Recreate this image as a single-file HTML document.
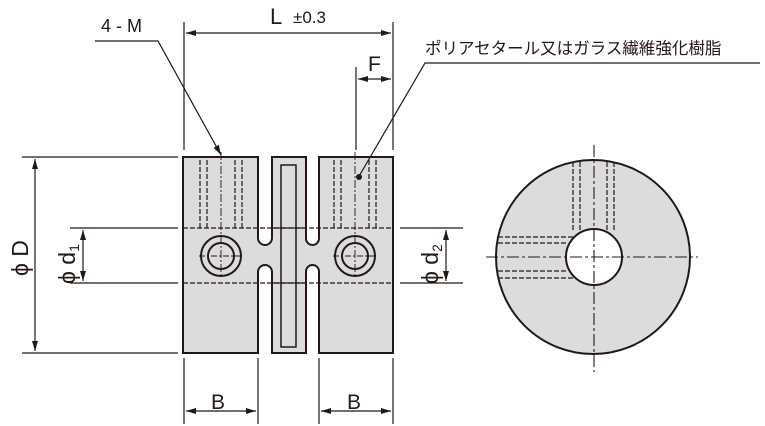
<!DOCTYPE html>
<html><head><meta charset="utf-8"><style>
html,body{margin:0;padding:0;background:#fff;width:765px;height:426px;overflow:hidden}
svg{display:block}
text{font-family:"Liberation Sans","Noto Sans CJK JP",sans-serif;fill:#231815}
</style></head><body>
<svg width="765" height="426" viewBox="0 0 765 426" xmlns="http://www.w3.org/2000/svg">
<defs>
<marker id="a" viewBox="0 0 10 6" refX="10" refY="3" markerWidth="10" markerHeight="6" orient="auto-start-reverse" markerUnits="userSpaceOnUse"><path d="M0,0L10,3L0,6z" fill="#231815"/></marker>
</defs>
<g stroke="#231815" fill="none">
<rect x="183" y="157" width="210" height="196" fill="#dcdcdc" stroke="none"/>
<g fill="#fff" stroke-width="2">
<rect x="258" y="140" width="14" height="105" rx="7"/>
<rect x="258" y="265" width="14" height="105" rx="7"/>
<rect x="306" y="140" width="13" height="105" rx="6.5"/>
<rect x="306" y="265" width="13" height="105" rx="6.5"/>
</g>
<rect x="250" y="130" width="80" height="26" fill="#fff" stroke="none"/>
<rect x="250" y="354" width="80" height="20" fill="#fff" stroke="none"/>
<path d="M258,157H183V353H258M272,157H306M272,353H306M319,157H393V353H319" stroke-width="2"/>
<rect x="281" y="165" width="15" height="182" stroke-width="1.5"/>
<path d="M183,228H393M183,283H393" stroke-width="1.2" stroke-dasharray="5,2"/>
<path d="M272,228H306M272,283H306" stroke-width="1.2"/>
<g stroke-width="1.2" stroke-dasharray="5,2">
<path d="M200,160V228M207,160V228M235,160V228M242,160V228M334,160V228M341,160V228M369,160V228M376,160V228"/>
</g>
<path d="M221,152V275M355,152V275" stroke-width="0.9" stroke-dasharray="8,2,2,2"/>
<g stroke-width="2">
<circle cx="221" cy="256" r="20"/><circle cx="221" cy="256" r="13"/>
<circle cx="355" cy="256" r="20"/><circle cx="355" cy="256" r="13"/>
</g>
<path d="M199,256H243M333,256H377" stroke-width="0.9" stroke-dasharray="6,2,2,2"/>
<circle cx="593" cy="257" r="97" fill="#dcdcdc" stroke-width="2"/>
<g stroke-width="1.2" stroke-dasharray="5,2">
<path d="M573,162V232M580,162V232M607,162V232M614,162V232"/>
<path d="M498,237H573M498,243H568M498,271H568M498,278H573"/>
</g>
<circle cx="594" cy="257" r="28" fill="#fff" stroke-width="2"/>
<path d="M486,257H698M594,145V372" stroke-width="1.1" stroke-dasharray="12,3,3,3"/>
<g stroke-width="1.2">
<path d="M184,22V150M393,22V150"/>
<path d="M186,33H391" marker-start="url(#a)" marker-end="url(#a)"/>
<path d="M356,67V150"/>
<path d="M358,79H391" marker-start="url(#a)" marker-end="url(#a)"/>
<path d="M22,157H178M22,353H178M70,228H178M70,283H178"/>
<path d="M35,159V351" marker-start="url(#a)" marker-end="url(#a)"/>
<path d="M83,230V281" marker-start="url(#a)" marker-end="url(#a)"/>
<path d="M400,228H463M400,283H463"/>
<path d="M446,230V281" marker-start="url(#a)" marker-end="url(#a)"/>
<path d="M184,358V424M258,358V424M319,358V424M393,358V424"/>
<path d="M186,411H256" marker-start="url(#a)" marker-end="url(#a)"/>
<path d="M321,411H391" marker-start="url(#a)" marker-end="url(#a)"/>
<path d="M95,41H158L221,155" marker-end="url(#a)"/>
<path d="M760,63H425L358,178"/>
</g>
<circle cx="359" cy="177" r="3" fill="#231815" stroke="none"/>
</g>
<text x="270" y="24" font-size="22">L</text>
<text x="293" y="23" font-size="17">±0.3</text>
<text x="101" y="32" font-size="18">4 - M</text>
<text x="368" y="71" font-size="21">F</text>
<text x="425" y="54" font-size="16.5">ポリアセタール又はガラス繊維強化樹脂</text>
<text x="211" y="409" font-size="21">B</text>
<text x="347" y="409" font-size="21">B</text>
<text transform="translate(28,276) rotate(-90)" font-size="23">ϕ D</text>
<text transform="translate(75,284) rotate(-90)" font-size="23">ϕ d<tspan font-size="14" dy="4">1</tspan></text>
<text transform="translate(438,284) rotate(-90)" font-size="23">ϕ d<tspan font-size="14" dy="4">2</tspan></text>
</svg>
</body></html>
